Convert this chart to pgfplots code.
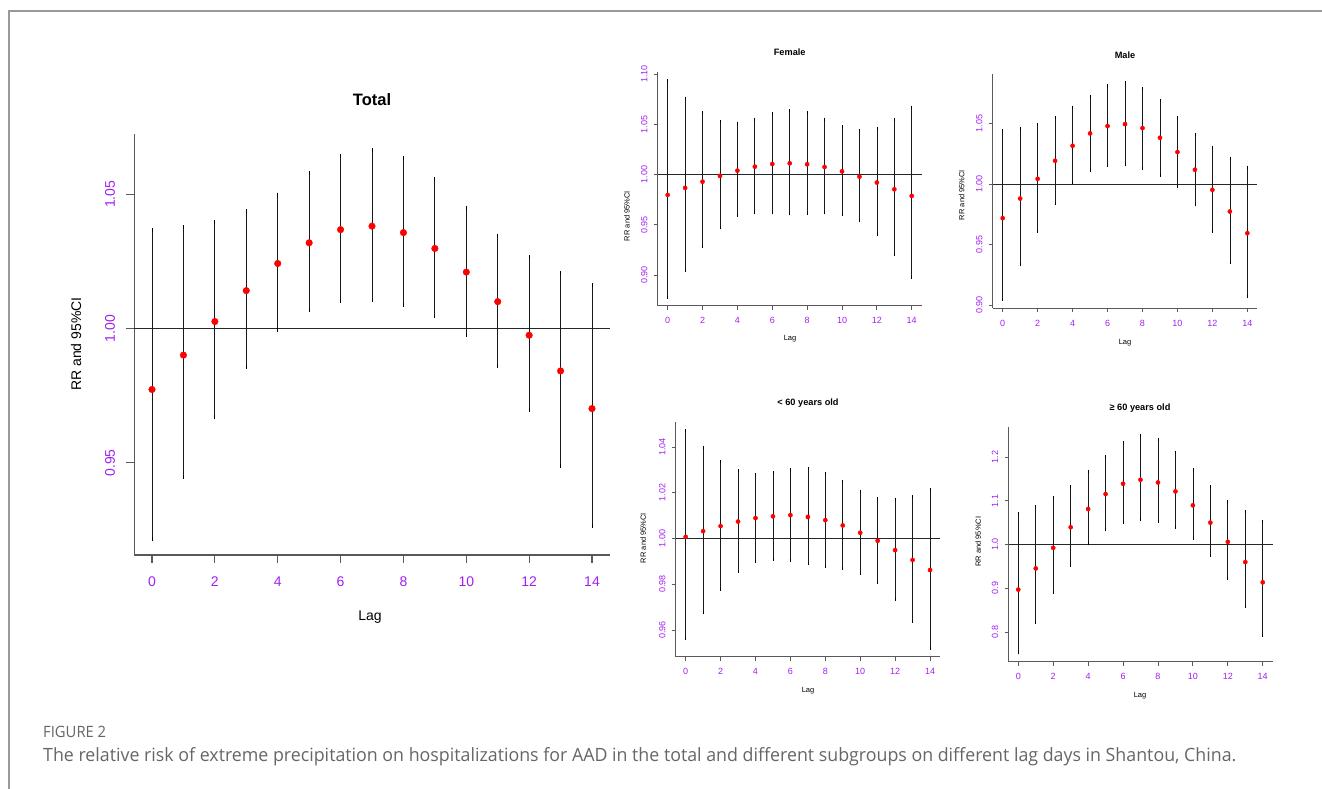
\documentclass[border=0pt]{standalone}
\usepackage{pgfplots}
\pgfplotsset{compat=1.18}
\usepackage{pgfplotstable}
\usepackage{fontspec}
\setmainfont{Liberation Sans}
\newfontfamily\capfont{Open Sans}
\definecolor{rpurple}{HTML}{A020F0}
\definecolor{capgray}{HTML}{666666}

\pgfplotstableread{
x y lo hi
0 0.9773 0.9215 1.0366
1 0.9901 0.9448 1.0376
2 1.0026 0.9669 1.0398
3 1.0141 0.9856 1.0437
4 1.0242 0.9993 1.0498
5 1.0319 1.0069 1.0577
6 1.0368 1.0103 1.0643
7 1.0381 1.0107 1.0666
8 1.0357 1.0089 1.0635
9 1.0298 1.0047 1.0556
10 1.0210 0.9975 1.0450
11 1.0100 0.9860 1.0346
12 0.9975 0.9695 1.0267
13 0.9842 0.9490 1.0205
14 0.9702 0.9266 1.0161
}\tabTotal

\pgfplotstableread{
x y lo hi
0 0.9798 0.8781 1.0934
1 0.9868 0.9046 1.0762
2 0.9930 0.9281 1.0619
3 0.9987 0.9470 1.0526
4 1.0040 0.9593 1.0510
5 1.0079 0.9626 1.0553
6 1.0106 0.9619 1.0609
7 1.0113 0.9609 1.0636
8 1.0103 0.9609 1.0616
9 1.0076 0.9619 1.0553
10 1.0033 0.9606 1.0477
11 0.9980 0.9543 1.0437
12 0.9921 0.9404 1.0464
13 0.9854 0.9205 1.0546
14 0.9788 0.8974 1.0672
}\tabFemale

\pgfplotstableread{
x y lo hi
0 0.9719 0.9049 1.0441
1 0.9881 0.9335 1.0463
2 1.0044 0.9608 1.0496
3 1.0193 0.9843 1.0554
4 1.0317 1.0014 1.0634
5 1.0419 1.0116 1.0728
6 1.0480 1.0157 1.0811
7 1.0496 1.0165 1.0838
8 1.0463 1.0132 1.0794
9 1.0383 1.0074 1.0692
10 1.0265 0.9978 1.0554
11 1.0119 0.9829 1.0414
12 0.9953 0.9611 1.0303
13 0.9774 0.9355 1.0215
14 0.9595 0.9076 1.0141
}\tabMale

\pgfplotstableread{
x y lo hi
0 1.0007 0.9564 1.0470
1 1.0032 0.9678 1.0396
2 1.0054 0.9778 1.0337
3 1.0074 0.9855 1.0296
4 1.0089 0.9898 1.0279
5 1.0097 0.9910 1.0287
6 1.0102 0.9904 1.0302
7 1.0094 0.9890 1.0305
8 1.0080 0.9878 1.0285
9 1.0057 0.9868 1.0250
10 1.0025 0.9848 1.0206
11 0.9990 0.9808 1.0174
12 0.9949 0.9733 1.0170
13 0.9906 0.9637 1.0184
14 0.9862 0.9521 1.0213
}\tabYoung

\pgfplotstableread{
x y lo hi
0 0.8968 0.7518 1.0698
1 0.9453 0.8209 1.0865
2 0.9924 0.8899 1.1070
3 1.0395 0.9522 1.1321
4 1.0812 1.0015 1.1662
5 1.1154 1.0334 1.2019
6 1.1389 1.0501 1.2338
7 1.1480 1.0562 1.2482
8 1.1419 1.0524 1.2391
9 1.1214 1.0387 1.2095
10 1.0896 1.0137 1.1708
11 1.0501 0.9742 1.1321
12 1.0061 0.9211 1.0987
13 0.9598 0.8588 1.0744
14 0.9135 0.7928 1.0524
}\tabOld

\pgfplotsset{
  rbase/.style={
    scale only axis, clip=false,
    axis x line*=bottom, axis y line*=left,
    xmin=-0.56, xmax=14.56,
    xtick={0,2,4,6,8,10,12,14},
    xticklabels={0,2,4,6,8,10,12,14},
    tick align=outside,
    ticklabel style={text=rpurple},
    xticklabel style={anchor=center},
    yticklabel style={anchor=center},
    minor tick num=0,
  },
  rbig/.style={
    rbase,
    axis line style={-, draw=black!65, line width=1.1pt},
    major tick length=8pt,
    tick style={draw=black!65, line width=1.1pt},
    ticklabel style={font=\fontsize{14}{16}\selectfont},
    xticklabel style={yshift=-18.7pt},
    yticklabel style={xshift=-16.4pt, rotate=90},
  },
  rsmall/.style={
    rbase,
    axis line style={-, draw=black!65, line width=0.9pt},
    major tick length=4pt,
    tick style={draw=black!65, line width=0.8pt},
    ticklabel style={font=\fontsize{9}{10}\selectfont},
    xticklabel style={yshift=-11pt},
    yticklabel style={xshift=-9.6pt, rotate=90},
  },
}

\newcommand{\refline}[1]{\addplot[draw=black!85, line width=#1, forget plot] coordinates {(-0.56,1) (14.56,1)};}
\newcommand{\ciplot}[4]{% table, bar width, cap half, dot radius
  \addplot[only marks, mark=*, mark size=#4, mark options={fill=red, draw=red},
    error bars/.cd, y dir=both, y explicit,
    error mark=-, error mark options={draw=black, line width=#2, mark size=#3},
    error bar style={draw=black!90, line width=#2}]
    table[x=x, y=y, y error plus expr=\thisrow{hi}-\thisrow{y}, y error minus expr=\thisrow{y}-\thisrow{lo}] {#1};}

\begin{document}
\begin{tikzpicture}
\useasboundingbox (0pt,0pt) rectangle (1322pt,789pt);
\draw[draw=black!40, line width=1.3pt] (9pt,0pt) -- (9pt,778pt) -- (1322pt,778pt);

% Total
\begin{axis}[rbig, at={(134.4pt,234pt)}, anchor=south west, width=475.2pt, height=421pt,
  ymin=0.9157, ymax=1.0724, ytick={0.95,1,1.05}, yticklabels={0.95,1.00,1.05}]
\refline{1.1pt}
\ciplot{\tabTotal}{0.9pt}{2pt}{3.3pt}
\end{axis}
\node[font=\bfseries\fontsize{16.5}{18}\selectfont, inner sep=0] at (372pt,689pt) {Total};
\node[font=\fontsize{14}{16}\selectfont, inner sep=0] at (370pt,172pt) {Lag};
\node[font=\fontsize{14}{16}\selectfont, inner sep=0, rotate=90] at (76pt,445pt) {RR and 95\%CI};

% Female
\begin{axis}[rsmall, at={(657.9pt,483.3pt)}, anchor=south west, width=263.6pt, height=233.4pt,
  ymin=0.8695, ymax=1.1019, ytick={0.90,0.95,1,1.05,1.10}, yticklabels={0.90,0.95,1.00,1.05,1.10}]
\refline{0.9pt}
\ciplot{\tabFemale}{0.7pt}{1.5pt}{2.1pt}
\end{axis}
\node[font=\bfseries\fontsize{9.2}{11}\selectfont, inner sep=0] at (789.7pt,736.3pt) {Female};
\node[font=\fontsize{7.5}{9}\selectfont, inner sep=0] at (790pt,450pt) {Lag};
\node[font=\fontsize{7.5}{9}\selectfont, inner sep=0, rotate=90] at (627pt,573pt) {RR and 95\%CI};

% Male
\begin{axis}[rsmall, at={(992.9pt,481pt)}, anchor=south west, width=264.2pt, height=234pt,
  ymin=0.8977, ymax=1.0910, ytick={0.90,0.95,1,1.05}, yticklabels={0.90,0.95,1.00,1.05}]
\refline{0.9pt}
\ciplot{\tabMale}{0.7pt}{1.5pt}{2.1pt}
\end{axis}
\node[font=\bfseries\fontsize{9.2}{11}\selectfont, inner sep=0] at (1125pt,734pt) {Male};
\node[font=\fontsize{7.5}{9}\selectfont, inner sep=0] at (1125pt,446.3pt) {Lag};
\node[font=\fontsize{7.5}{9}\selectfont, inner sep=0, rotate=90] at (961.7pt,594pt) {RR and 95\%CI};

% < 60
\begin{axis}[rsmall, at={(675.9pt,132.3pt)}, anchor=south west, width=263.9pt, height=234.4pt,
  ymin=0.9483, ymax=1.0508, ytick={0.96,0.98,1,1.02,1.04}, yticklabels={0.96,0.98,1.00,1.02,1.04}]
\refline{0.9pt}
\ciplot{\tabYoung}{0.7pt}{1.5pt}{2.1pt}
\end{axis}
\node[font=\bfseries\fontsize{9.2}{11}\selectfont, inner sep=0] at (808pt,385.7pt) {< 60 years old};
\node[font=\fontsize{7.5}{9}\selectfont, inner sep=0] at (808pt,98pt) {Lag};
\node[font=\fontsize{7.5}{9}\selectfont, inner sep=0, rotate=90] at (643.3pt,251pt) {RR and 95\%CI};

% >= 60
\begin{axis}[rsmall, at={(1008.5pt,127.3pt)}, anchor=south west, width=264pt, height=234.4pt,
  ymin=0.7319, ymax=1.2681, ytick={0.8,0.9,1,1.1,1.2}, yticklabels={0.8,0.9,1.0,1.1,1.2}]
\refline{0.9pt}
\ciplot{\tabOld}{0.7pt}{1.5pt}{2.1pt}
\end{axis}
\node[font=\bfseries\fontsize{9.2}{11}\selectfont, inner sep=0] at (1140pt,380.7pt) {≥ 60 years old};
\node[font=\fontsize{7.5}{9}\selectfont, inner sep=0] at (1140pt,93pt) {Lag};
\node[font=\fontsize{7.5}{9}\selectfont, inner sep=0, rotate=90] at (978.3pt,247.3pt) {RR and 95\%CI};

% caption
\node[anchor=base west, inner sep=0, text=capgray] at (43pt,51.7pt)
  {\resizebox{63pt}{11.3pt}{\capfont FIGURE 2}};
\node[anchor=base west, inner sep=0, text=capgray] at (43pt,27.3pt)
  {\resizebox{1193pt}{14pt}{\capfont The relative risk of extreme precipitation on hospitalizations for AAD in the total and different subgroups on different lag days in Shantou, China.}};
\end{tikzpicture}
\end{document}
